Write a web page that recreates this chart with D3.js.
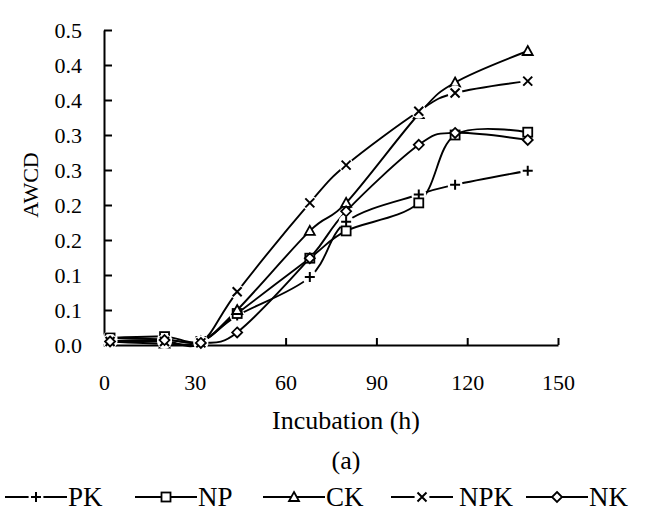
<!DOCTYPE html>
<html><head><meta charset="utf-8">
<script src="https://cdn.jsdelivr.net/npm/d3@7"></script>
<style>
body{margin:0;background:#fff;}
svg{display:block;}
svg text{font-family:"Liberation Serif","Times New Roman",serif;fill:#000;}
</style></head>
<body><svg id="c" width="648" height="520"></svg>
<script>
const hours=[2,20,32,44,68,80,104,116,140];
const PK =[0.010,0.008,0.005,0.042,0.097,0.176,0.215,0.229,0.249];
const NP =[0.010,0.012,0.005,0.045,0.124,0.163,0.203,0.300,0.304];
const CK =[0.005,0.002,0.005,0.050,0.163,0.203,0.330,0.375,0.420];
const NPK=[0.005,0.005,0.003,0.076,0.203,0.257,0.334,0.360,0.377];
const NK =[0.005,0.007,0.003,0.018,0.124,0.191,0.286,0.303,0.293];
const seriesNames=["PK","NP","CK","NPK","NK"];
const seriesMarkers=["plus","square","triangle","cross","diamond"];
const yTicks=[0,0.05,0.10,0.15,0.20,0.25,0.30,0.35,0.40,0.45];
const yTickLabels=["0.0","0.1","0.1","0.2","0.2","0.3","0.3","0.4","0.4","0.5"];
const xTicks=[0,30,60,90,120,150];
const xTitle="Incubation (h)", yTitle="AWCD", subTitle="(a)";

const seriesValues=[PK,NP,CK,NPK,NK];
const svg=d3.select("#c");
const x=d3.scaleLinear().domain([0,150]).range([104,558]);
const y=d3.scaleLinear().domain([0,0.45]).range([345,30]);

function drawMarker(g,type,cx,cy){
  const s=g.append("g").attr("transform",`translate(${cx},${cy})`);
  if(type==="plus"||type==="cross"){
    s.append("circle").attr("r",7.5).attr("fill","#fff");
    const p= type==="plus"?"M-5,0H5M0,-5V5":"M-4.5,-4.5L4.5,4.5M-4.5,4.5L4.5,-4.5";
    s.append("path").attr("d",p).attr("stroke","#000").attr("stroke-width",2).attr("fill","none");
  } else if(type==="square"){
    s.append("rect").attr("x",-4.5).attr("y",-4.5).attr("width",9).attr("height",9)
     .attr("fill","#fff").attr("stroke","#000").attr("stroke-width",1.8);
  } else if(type==="triangle"){
    s.append("path").attr("d","M0,-5L5,4L-5,4Z").attr("fill","#fff").attr("stroke","#000").attr("stroke-width",1.8);
  } else if(type==="diamond"){
    s.append("path").attr("d","M0,-5L5,0L0,5L-5,0Z").attr("fill","#fff").attr("stroke","#000").attr("stroke-width",1.8);
  }
}

// axes
const yAxis=d3.axisLeft(y).tickValues(yTicks).tickFormat((d,i)=>yTickLabels[i])
  .tickSizeInner(-8).tickSizeOuter(0).tickPadding(22);
const gy=svg.append("g").attr("transform","translate(104,0)").call(yAxis);
const xAxis=d3.axisBottom(x).tickValues(xTicks).tickFormat(d3.format("d"))
  .tickSizeInner(-7).tickSizeOuter(0).tickPadding(29);
const gx=svg.append("g").attr("transform","translate(0,345)").call(xAxis);
[gx,gy].forEach(g=>{
  g.attr("font-family",null).attr("font-size",null);
  g.select(".domain").attr("stroke","#000").attr("stroke-width",2);
  g.selectAll(".tick line").attr("stroke","#000").attr("stroke-width",2);
  g.selectAll(".tick text").style("font-size","22px");
});

// lines
const line=d3.line().x((d,i)=>x(hours[i])).y(d=>y(d)).curve(d3.curveCardinal.tension(0));
seriesValues.forEach(vals=>{
  svg.append("path").attr("d",line(vals)).attr("fill","none")
    .attr("stroke","#000").attr("stroke-width",1.9);
});
seriesValues.forEach((vals,si)=>{
  vals.forEach((v,i)=>drawMarker(svg,seriesMarkers[si],x(hours[i]),y(v)));
});

// titles
svg.append("text").attr("x",346).attr("y",429).attr("text-anchor","middle")
  .style("font-size","26px").text(xTitle);
svg.append("text").attr("x",346).attr("y",469).attr("text-anchor","middle")
  .style("font-size","26px").text(subTitle);
svg.append("text").attr("transform","translate(38,185) rotate(-90)").attr("text-anchor","middle")
  .style("font-size","22px").text(yTitle);

// legend
const legX=[5,135,263,391,526];
const leg=svg.append("g");
seriesNames.forEach((n,i)=>{
  const g=leg.append("g").attr("transform",`translate(${legX[i]},497)`);
  g.append("line").attr("x1",0).attr("x2",62).attr("y1",0).attr("y2",0)
   .attr("stroke","#000").attr("stroke-width",2);
  drawMarker(g,seriesMarkers[i],31,0);
  g.append("text").attr("x",n==="NPK"?68:63).attr("y",9).style("font-size","27px").text(n);
});
</script></body></html>
